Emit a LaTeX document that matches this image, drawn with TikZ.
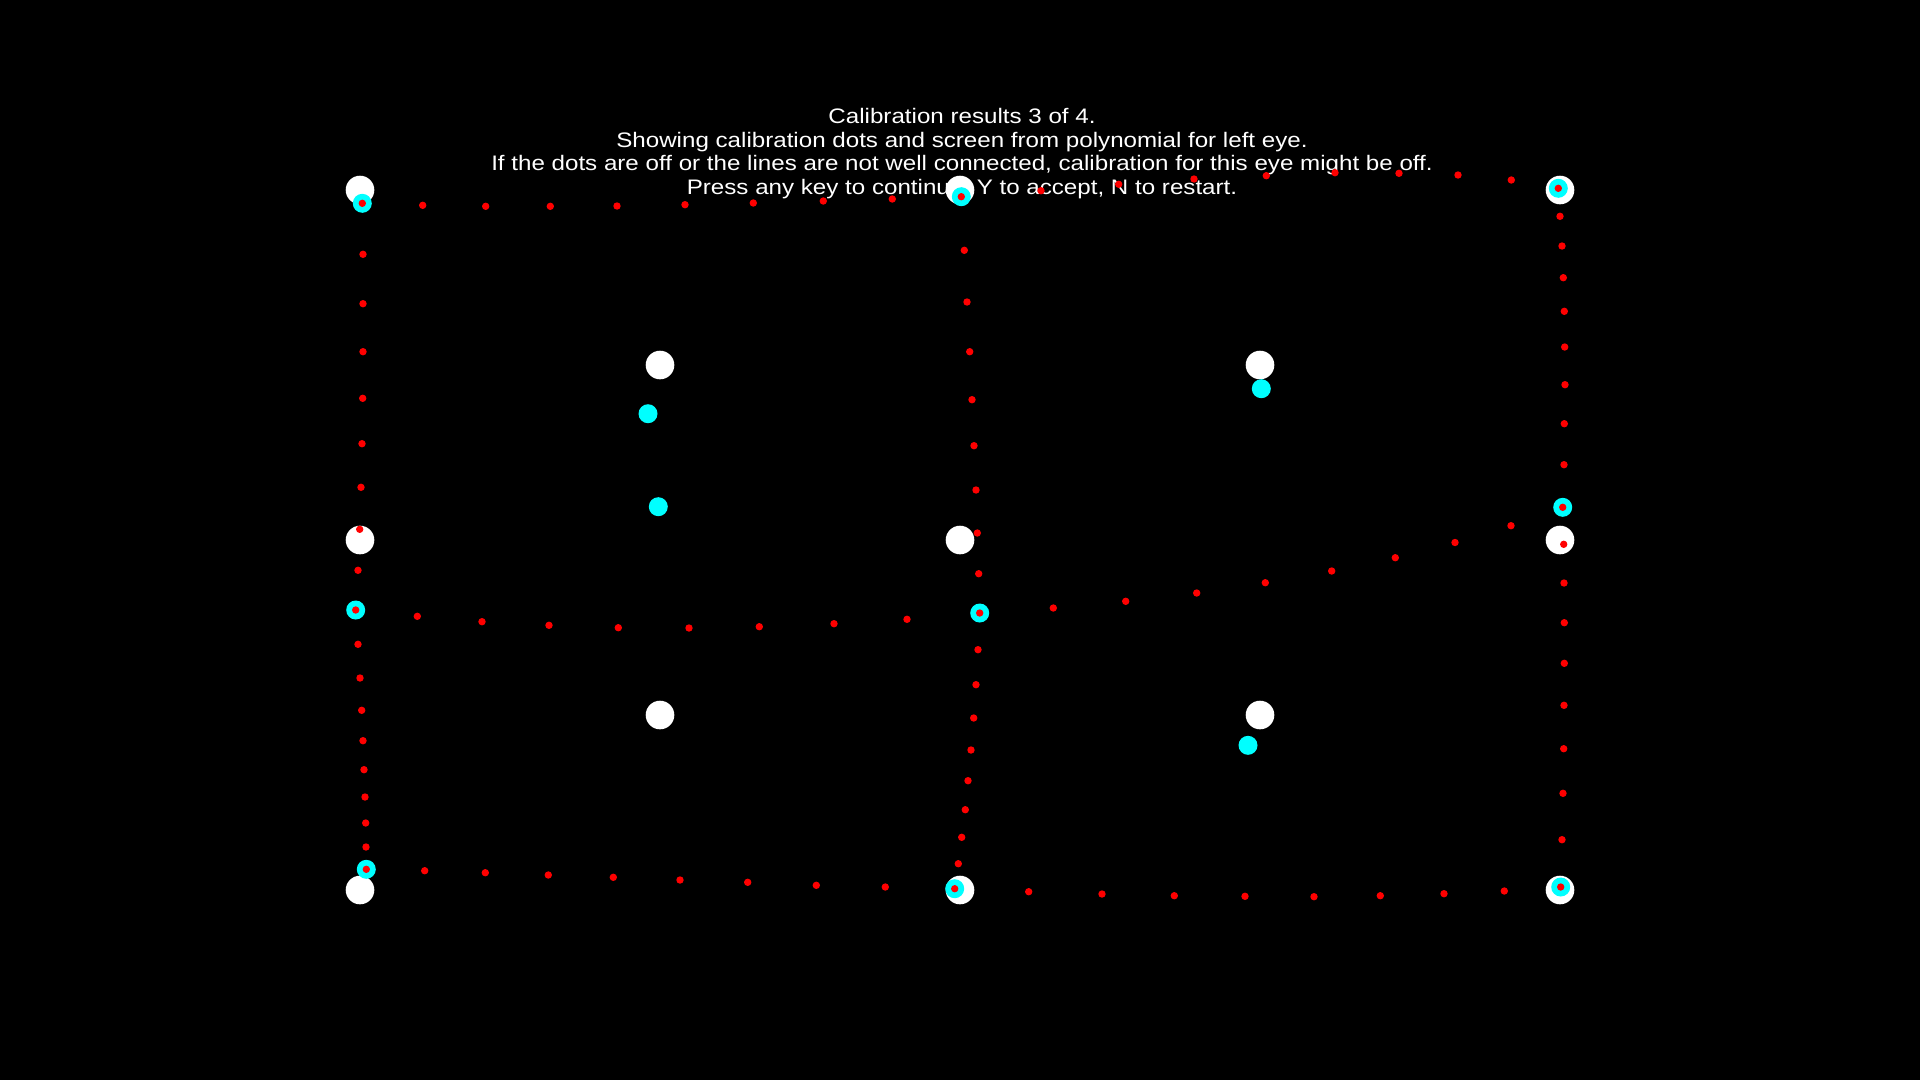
\documentclass[tikz,border=0pt]{standalone}
\usepackage{fontspec}
\setmainfont[FakeStretch=1.15]{Liberation Sans}
\definecolor{gazecyan}{RGB}{0,255,255}
\definecolor{curvered}{RGB}{255,0,0}
\begin{document}
\begin{tikzpicture}[x=1pt,y=-1pt,
  msg/.style={text=white,inner sep=0pt,anchor=base,font=\fontsize{21}{24}\selectfont},
  target/.style={fill=white},
  gaze/.style={fill=gazecyan},
  curve/.style={fill=curvered}]
\fill[black] (0,0) rectangle (1920,1080);
\useasboundingbox (0,0) rectangle (1920,1080);
% texts
\node[msg] (t1) at (962,123.0) {Calibration results 3 of 4.};
\node[msg] (t2) at (962,147.0) {Showing calibration dots and screen from polynomial for left eye.};
\node[msg] (t3) at (962,170.7) {If the dots are off or the lines are not well connected, calibration for this eye might be off.};
\node[msg] (t4) at (962,194.7) {Press any key to continue, Y to accept, N to restart.};
% calibration targets
\foreach \p in {(360,190),(960,190),(1560,190),(660,365),(1260,365),(360,540),(960,540),(1560,540),(660,715),(1260,715),(360,890),(960,890),(1560,890)}
  \fill[target] \p circle (14.3);
% measured gaze points
\foreach \p in {(362.3,203.3),(961.3,196.7),(1558.3,188.3),(648,413.7),(1261.3,388.7),(658.3,506.7),(1562.7,507.3),(355.7,610),(979.7,613),(1248,745.3),(366.3,869.3),(954.7,888.7),(1560.7,887)}
  \fill[gaze] \p circle (9.5);
% polynomial screen grid
\foreach \p in {
 (362.3,203.3),(422.7,205.3),(485.7,206.3),(550.3,206.3),(617,206),(685,204.7),(753.3,203),(823.3,201),(892.3,199),(961.3,196.7),(1041,190.7),(1118.7,184.3),(1194,179),(1266.3,175.7),(1335,172.7),(1399,173.3),(1458,175),(1511.3,180),(1558.3,188.3),
 (363,254.3),(363,303.7),(363,351.7),(362.7,398.3),(362,443.7),(361,487.3),(359.7,529.3),(358,570.3),(355.7,610),(358,644.3),(360,678),(361.7,710.3),(363,740.7),(364,769.7),(365,797),(365.7,823),(366,847),(366.3,869.3),
 (964.3,250.3),(967,302),(969.7,351.7),(972,399.7),(974,445.7),(976,490),(977.3,533),(978.7,573.7),(979.7,613),(978,649.7),(976,684.7),(973.7,718),(971,750),(968,780.7),(965.3,809.7),(961.7,837.3),(958.3,863.7),(954.7,888.7),
 (1560,216.3),(1562,246),(1563.3,277.7),(1564.3,311.3),(1564.7,347),(1565,384.7),(1564.3,423.7),(1564,464.7),(1562.7,507.3),(1563.7,544.3),(1564,583),(1564.3,622.7),(1564.3,663.3),(1564,705.3),(1563.7,748.7),(1563,793.3),(1562,839.7),(1560.7,887),
 (417.3,616.3),(482,621.7),(549,625.3),(618.3,627.7),(689,628),(759.3,626.7),(834,623.7),(907,619.3),(1053.3,608),(1125.7,601.3),(1196.7,593),(1265.3,582.7),(1331.7,571),(1395.3,557.7),(1455,542.5),(1511,525.7),
 (424.7,870.7),(485.3,872.7),(548.3,875),(613.3,877.3),(680,880),(747.7,882.3),(816.3,885.3),(885.3,887),(1028.7,891.7),(1102,894),(1174.3,895.7),(1245,896.3),(1314,896.7),(1380.3,895.7),(1444,893.7),(1504.3,891)}
  \fill[curve] \p circle (3.7);
\end{tikzpicture}
\end{document}
